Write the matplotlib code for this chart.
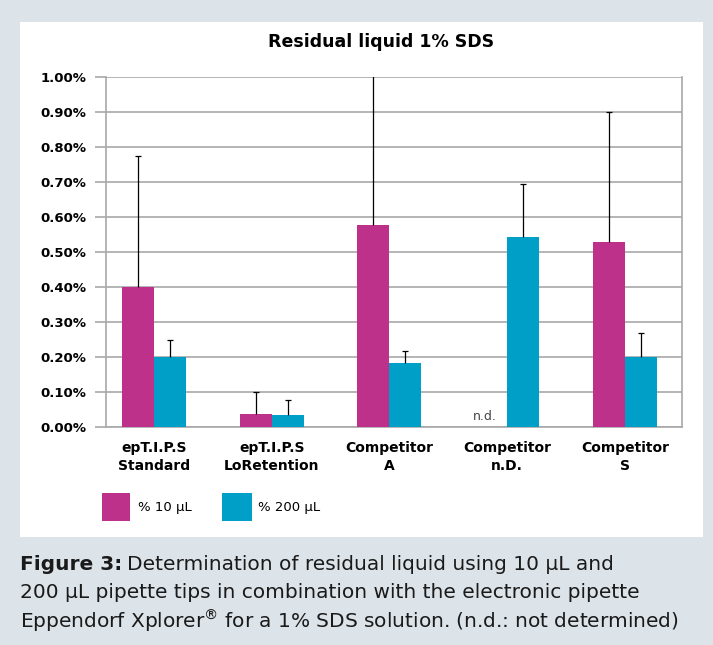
import matplotlib
matplotlib.use("Agg")
import matplotlib.pyplot as plt
from matplotlib.patches import Rectangle
import numpy as np

# Data (percent residual liquid)
categories = ["epT.I.P.S\nStandard", "epT.I.P.S\nLoRetention", "Competitor\nA",
              "Competitor\nn.D.", "Competitor\nS"]
val_10 = [0.40, 0.037, 0.577, np.nan, 0.529]
err_10 = [0.375, 0.063, 0.45, np.nan, 0.371]
val_200 = [0.20, 0.034, 0.183, 0.543, 0.20]
err_200 = [0.049, 0.044, 0.034, 0.151, 0.069]
yticks = [0.0, 0.1, 0.2, 0.3, 0.4, 0.5, 0.6, 0.7, 0.8, 0.9, 1.0]

plt.rcParams['font.family'] = ['DejaVu Sans']

magenta = "#bd318a"
cyan = "#009fc7"
bg = "#dce4ea"

fig = plt.figure(figsize=(7.13, 6.45), dpi=100, facecolor=bg)
W, H = 713, 645

# white panel
fig.patches.append(Rectangle((20 / W, 1 - 537 / H), 683 / W, 515 / H,
                             transform=fig.transFigure, facecolor="white",
                             edgecolor="none", zorder=-5))

ax = fig.add_axes([106 / W, 1 - 427 / H, 576 / W, 350 / H])
ax.set_zorder(3)
ax.set_facecolor("white")
x = np.arange(len(categories))
w = 0.272

ax.bar(x - w / 2, val_10, w, color=magenta, zorder=3)
ax.bar(x + w / 2, val_200, w, color=cyan, zorder=3)
for xs, v, e in [(x - w / 2, val_10, err_10), (x + w / 2, val_200, err_200)]:
    eb = ax.errorbar(xs, v, yerr=[np.zeros(len(x)), e], fmt="none",
                     ecolor="black", elinewidth=0.9, capsize=2.5, capthick=0.9,
                     zorder=4)
    eb[1][0].set_visible(False)  # no cap at the bar top

ax.text(3 - w / 2 - 0.05, 0.01, "n.d.", ha="center", va="bottom",
        fontsize=9, color="#444444")

ax.set_ylim(0, 1.0)
ax.set_xlim(-0.408, len(categories) - 1 + 0.485)
ax.set_yticks(yticks)
ax.set_yticklabels([f"{t:.2f}%" for t in yticks], fontsize=9.5, fontweight="bold")
ax.set_xticks(x)
ax.set_xticklabels(categories, fontsize=10, fontweight="bold", linespacing=1.35)
ax.tick_params(axis="x", length=0, pad=10)
ax.tick_params(axis="y", length=8, color="#a8a8a8", width=1.2, pad=6)
ax.grid(axis="y", color="#a8a8a8", linewidth=1.2, zorder=0)
for s in ax.spines.values():
    s.set_color("#a8a8a8")
    s.set_linewidth(1.2)
ax.spines["top"].set_visible(False)

fig.text(381 / W, 1 - 42 / H, "Residual liquid 1% SDS", ha="center", va="center",
         fontsize=12.5, fontweight="bold")

# legend
fig.patches.append(Rectangle((102 / W, 1 - 521 / H), 28 / W, 28 / H,
                             transform=fig.transFigure, facecolor=magenta, zorder=2))
fig.text(138 / W, 1 - 507 / H, "% 10 µL", va="center", fontsize=9.5)
fig.patches.append(Rectangle((222 / W, 1 - 521 / H), 30 / W, 28 / H,
                             transform=fig.transFigure, facecolor=cyan, zorder=2))
fig.text(258 / W, 1 - 507 / H, "% 200 µL", va="center", fontsize=9.5)

# caption
cap_fs = 14.5
fig.canvas.draw()
r = fig.canvas.get_renderer()
t = fig.text(20 / W, 1 - 565 / H, "Figure 3:", fontsize=cap_fs, fontweight="bold",
             va="center", color="#1a1a1a")
bb = t.get_window_extent(renderer=r)
fig.text(bb.x1 / W + 5 / W, 1 - 565 / H,
         "Determination of residual liquid using 10 µL and", fontsize=cap_fs,
         va="center", color="#1a1a1a")
fig.text(20 / W, 1 - 593 / H,
         "200 µL pipette tips in combination with the electronic pipette",
         fontsize=cap_fs, va="center", color="#1a1a1a")
fig.text(20 / W, 1 - 621 / H,
         "Eppendorf Xplorer$^{®}$ for a 1% SDS solution. (n.d.: not determined)",
         fontsize=cap_fs, va="center", color="#1a1a1a")

fig.savefig("out.png", dpi=100, facecolor=bg)
